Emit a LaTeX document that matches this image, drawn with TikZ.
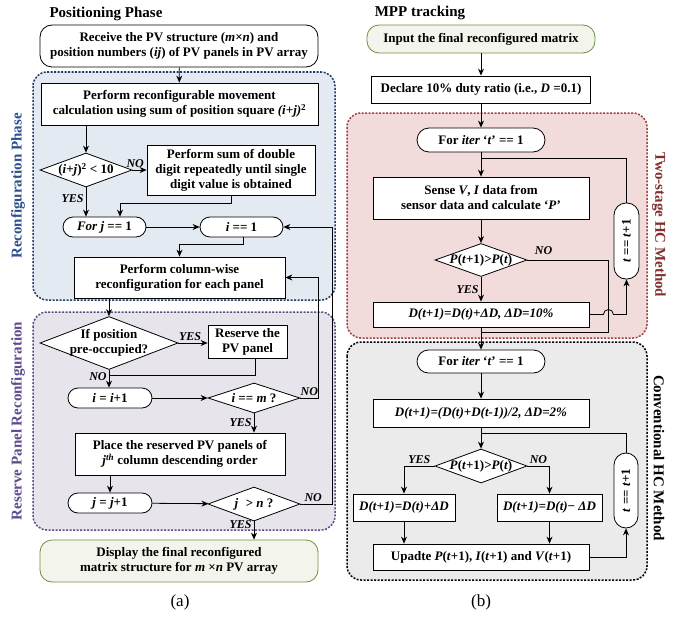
\documentclass[tikz,border=0pt]{standalone}
\usepackage{fontspec}
\setmainfont{Liberation Serif}
\usepackage{graphicx}
\usetikzlibrary{shapes.geometric,arrows.meta}
\definecolor{bluefill}{HTML}{E4EAF2}
\definecolor{blueline}{HTML}{1F3A68}
\definecolor{bluetext}{HTML}{2E4E8C}
\definecolor{purpfill}{HTML}{E8E4EC}
\definecolor{purpline}{HTML}{5A4A85}
\definecolor{purptext}{HTML}{5E4B8B}
\definecolor{redfill}{HTML}{F2DCDB}
\definecolor{redline}{HTML}{A2413C}
\definecolor{redtext}{HTML}{7F2F2C}
\definecolor{grayfill}{HTML}{EBEBEB}
\definecolor{greenline}{HTML}{6F8F3A}
\definecolor{greenfill}{HTML}{F3F5EC}
\tikzstyle{arrow} = [->,>={Stealth[length=7pt,width=6pt]},line width=0.8pt]
\tikzstyle{line} = [line width=0.8pt]
\tikzstyle{box} = [draw,line width=0.8pt,fill=white,align=center,inner sep=2pt,font=\bfseries\fontsize{13}{15}\selectfont]
\tikzstyle{rbox} = [box,rounded corners=12pt]
\tikzstyle{pill} = [box,rounded corners=10pt]
\tikzstyle{gbox} = [rbox,draw=greenline,fill=greenfill]
\tikzstyle{decision} = [box,diamond,inner sep=-20pt]
\tikzstyle{lbl} = [font=\bfseries\itshape\fontsize{12}{14}\selectfont,inner sep=2pt]
\tikzstyle{region} = [rounded corners=14pt,line width=1.5pt,dash pattern=on 2pt off 1.5pt]
\tikzstyle{phase} = [font=\bfseries\fontsize{15}{17}\selectfont]

\begin{document}
\begin{tikzpicture}[x=1pt,y=-1pt]
  \useasboundingbox (0,0) rectangle (685,618);
  % shaded groups
  \draw[region,draw=blueline,fill=bluefill] (33,72) rectangle (335,300);
  \draw[region,draw=purpline,fill=purpfill] (33,312) rectangle (335,530);
  \draw[region,draw=redline,fill=redfill] (347,113) rectangle (647,338);
  \draw[region,draw=black,fill=grayfill] (347,342) rectangle (647,580);
  \node[phase,text=bluetext,rotate=90] at (18,186) (rph) {Reconfiguration Phase};
  \node[phase,text=purptext,rotate=90] at (18,421) (rpr) {Reserve Panel Reconfiguration};
  \node[phase,text=redtext,rotate=-90] at (659,225) (tsm) {Two-stage HC Method};
  \node[phase,rotate=-90] at (659,458) (chm) {Conventional HC Method};

  % (a) positioning phase
  \node[phase] at (106,14) (ttla) {Positioning Phase};
  \node[rbox,minimum width=278,minimum height=42] at (179,46) (recv) {Receive the PV structure (\textit{m}×\textit{n}) and\\position numbers (\textit{ij}) of PV panels in PV array};
  \node[box,minimum width=277,minimum height=42] at (179.5,104) (calc) {Perform reconfigurable movement\\calculation using sum of position square \textit{(i+j)}\textsuperscript{2}};
  \node[decision,minimum width=92,minimum height=34] at (86,170) (sqr) {(\textit{i}+\textit{j})\textsuperscript{2} < 10};
  \node[box,minimum width=168,minimum height=50] at (231,170) (digit) {Perform sum of double\\digit repeatedly until single\\digit value is obtained};
  \node[pill,minimum width=83,minimum height=20] at (104.5,227) (forj) {\textit{For j} == 1};
  \node[pill,minimum width=83,minimum height=20] at (241.5,227) (ione) {\textit{i} == 1};
  \node[box,minimum width=211,minimum height=41] at (179.5,277.5) (colw) {Perform column-wise\\reconfiguration for each panel};
  \node[decision,minimum width=138,minimum height=53] at (109,343) (occ) {If position\\pre-occupied?};
  \node[box,minimum width=79,minimum height=33] at (247.5,341.5) (rsv) {Reserve the\\PV panel};
  \coordinate (mrg) at (109,375);
  \node[pill,minimum width=84,minimum height=20] at (110,398) (iinc) {\textit{i} = \textit{i}+1};
  \node[decision,minimum width=92,minimum height=30] at (254,398) (ism) {\textit{i} == \textit{m} ?};
  \node[box,minimum width=210,minimum height=42] at (180,454) (place) {Place the reserved PV panels of\\\textit{j}\textsuperscript{\textit{th}} column descending order};
  \node[pill,minimum width=84,minimum height=20] at (110,503) (jinc) {\textit{j} = \textit{j}+1};
  \node[decision,minimum width=92,minimum height=34] at (254,504) (jgn) {\textit{j}\,\, > \textit{n} ?};
  \node[gbox,minimum width=278,minimum height=42] at (179,561) (disp) {Display the final reconfigured\\matrix structure for \textit{m} ×\textit{n} PV array};
  \node[font=\fontsize{17}{20}\selectfont] at (180,602) (capa) {(a)};

  \draw[arrow] (recv) -- (calc);
  \draw[arrow] (calc.south -| sqr.north) -- (sqr.north);
  \draw[arrow] (sqr.east) -- node[lbl,above,pos=0.2]{NO} (digit.west);
  \draw[arrow] (sqr.south) -- node[lbl,left,pos=0.4]{YES} (sqr.south |- forj.north);
  \draw[arrow] (digit.south) -- ++(0,8) -| ([xshift=15.5]forj.north);
  \draw[arrow] (forj) -- (ione);
  \draw[arrow] ([xshift=1.5]ione.south) -- ++(0,7) -| (colw.north);
  \draw[arrow] (colw.south -| occ.north) -- (occ.north);
  \draw[arrow] (occ.east) -- node[lbl,above,pos=0.4]{YES} (occ.east -| rsv.west);
  \draw[line] ([xshift=7.5]rsv.south) |- (mrg);
  \draw[arrow] (occ.south) -- node[lbl,left,pos=0.35]{NO} (occ.south |- iinc.north);
  \draw[arrow] (iinc) -- (ism);
  \draw[arrow] (ism.east) -- node[lbl,above,pos=0.5]{NO} ++(18,0) |- (colw.east);
  \draw[arrow] (ism.south) -- node[lbl,left,pos=0.5]{YES} (ism.south |- place.north);
  \draw[arrow] (place.south -| jinc.north) -- (jinc.north);
  \draw[arrow] (jinc) -- (jgn);
  \draw[arrow] (jgn.east) -- node[lbl,above,pos=0.4]{NO} ++(32,0) |- (ione.east);
  \draw[arrow] (jgn.south) -- node[lbl,left,pos=0.15]{YES} (jgn.south |- disp.north);

  % (b) MPP tracking
  \node[phase] at (420,13) (ttlb) {MPP tracking};
  \node[gbox,minimum width=228,minimum height=28] at (481,39) (inp) {Input the final reconfigured matrix};
  \node[box,minimum width=219,minimum height=27] at (481,89.5) (decl) {Declare 10\% duty ratio (i.e., \textit{D} =0.1)};
  \node[pill,rounded corners=12pt,minimum width=128,minimum height=24] at (481,140) (fora) {For \textit{iter} `\textit{t}' == 1};
  \coordinate (jn0) at (481,158);
  \node[box,minimum width=216,minimum height=42] at (481,198) (sense) {Sense \textit{V}, \textit{I} data from\\sensor data and calculate `\textit{P}'};
  \node[decision,minimum width=92,minimum height=33] at (481,260) (pgta) {\textit{P}(\textit{t}+1)>\textit{P}(\textit{t})};
  \node[box,minimum width=216,minimum height=25] at (481,314.5) (dten) {\itshape D(t+1)=D(t)+ΔD, ΔD=10\%};
  \node[pill,rounded corners=12pt,minimum width=25,minimum height=76] at (626.5,241) (tinca) {\rotatebox{90}{\textit{t} == \textit{t}+1}};
  \coordinate (jn1) at (481,332);
  \node[pill,rounded corners=11.5pt,minimum width=128,minimum height=23] at (481,361.5) (forb) {For \textit{iter} `\textit{t}' == 1};
  \node[box,minimum width=216,minimum height=28] at (481,413) (davg) {\itshape D(t+1)=(D(t)+D(t-1))/2, ΔD=2\%};
  \node[decision,minimum width=92,minimum height=34] at (481,466) (pgtb) {\textit{P}(\textit{t}+1)>\textit{P}(\textit{t})};
  \node[box,minimum width=102,minimum height=27] at (404,507.5) (dplus) {\itshape D(t+1)=D(t)+ΔD};
  \node[box,minimum width=105,minimum height=27] at (549.5,507.5) (dminus) {\textit{D(t+1)=D(t)}− \textit{ΔD}};
  \node[box,minimum width=216,minimum height=26] at (481,557) (upd) {Upadte \textit{P}(\textit{t}+1), \textit{I}(\textit{t}+1) and \textit{V}(\textit{t}+1)};
  \node[pill,rounded corners=12pt,minimum width=24,minimum height=75] at (626,490.5) (tincb) {\rotatebox{90}{\textit{t} == \textit{t}+1}};
  \node[font=\fontsize{17}{20}\selectfont] at (481,602) (capb) {(b)};

  \draw[arrow] (inp) -- (decl);
  \draw[arrow] (decl) -- (fora);
  \draw[arrow] (fora) -- (sense);
  \draw[arrow] (sense) -- (pgta);
  \draw[arrow] (pgta.south) -- node[lbl,left,pos=0.5]{YES} (dten.north);
  \draw[line] (pgta.east) -- node[lbl,above=3pt,pos=0.2]{NO} ++(81,0) |- (jn1);
  \draw[arrow] (dten.east) -- ++(14,0) arc (180:360:5) -| (tinca.south);
  \draw[line] (tinca.north) |- (jn0);
  \draw[arrow] (dten) -- (forb);
  \draw[arrow] (forb) -- (davg);
  \draw[arrow] (davg) -- (pgtb);
  \draw[line] ([yshift=-6]davg.south) -| (tincb.north);
  \draw[arrow] (pgtb.west) -| node[lbl,above,pos=0.25]{YES} (dplus.north);
  \draw[arrow] (pgtb.east) -| node[lbl,above,pos=0.25]{NO} (dminus.north);
  \draw[arrow] (dplus.south) -- (dplus.south |- upd.north);
  \draw[arrow] (dminus.south) -- (dminus.south |- upd.north);
  \draw[arrow] (upd.east) -| (tincb.south);
\end{tikzpicture}
\end{document}
